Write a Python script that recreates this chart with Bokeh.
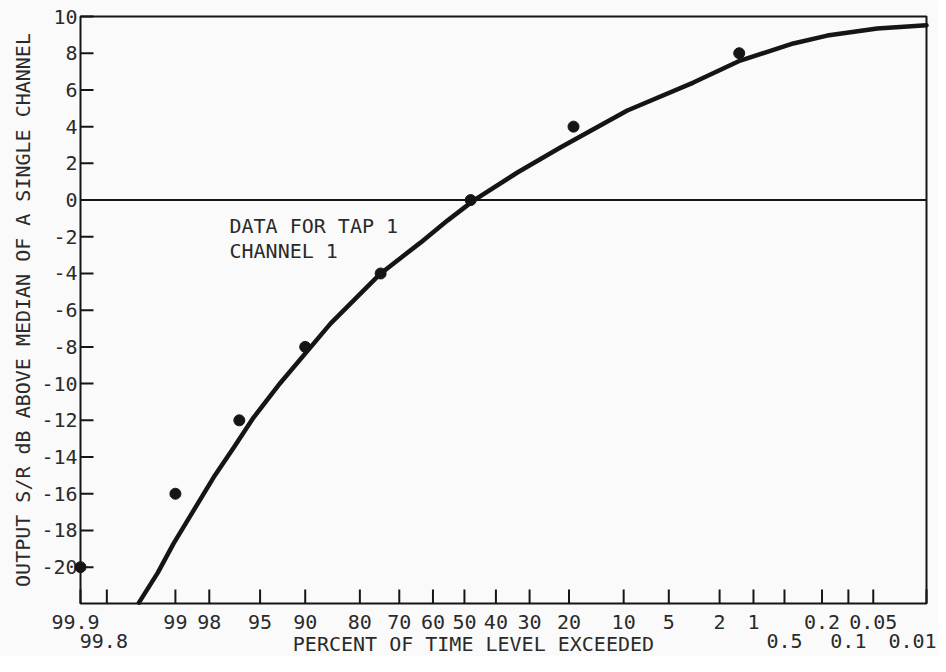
import math
from bokeh.plotting import figure
from bokeh.models import Range1d
from bokeh.core.properties import value
from bokeh.embed import file_html
from bokeh.resources import INLINE

# ---- data (percent of time level exceeded, dB) ----
PTS_PCT = [99.9, 99, 96.5, 90, 75, 48, 19, 1.35]
PTS_DB = [-20, -16, -12, -8, -4, 0, 4, 8]

CURVE_PCT = [99.56, 99.32, 99.04, 98.54, 97.83, 96.84, 95.52, 93.06, 85.95, 75.05,
             63.83, 55.45, 47.11, 33.49, 22.0, 9.49, 3.27, 1.32, 0.406, 0.175, 0.0445, 0.01]
CURVE_DB = [-21.93, -20.30, -18.72, -16.92, -15.12, -13.49, -11.85, -9.95, -6.73, -4.01,
            -2.32, -1.12, -0.03, 1.50, 2.86, 4.88, 6.40, 7.60, 8.53, 8.96, 9.35, 9.52]

X_TICKS_UPPER = [99.9, 99, 98, 95, 90, 80, 70, 60, 50, 40, 30, 20, 10, 5, 2, 1, 0.2, 0.05]
X_LABELS_UPPER = ["99.9", "99", "98", "95", "90", "80", "70", "60", "50", "40", "30", "20",
                  "10", "5", "2", "1", "0.2", "0.05"]
X_TICKS_LOWER = [99.8, 0.5, 0.1, 0.01]
X_LABELS_LOWER = ["99.8", "0.5", "0.1", "0.01"]
Y_TICKS = [-20, -18, -16, -14, -12, -10, -8, -6, -4, -2, 0, 2, 4, 6, 8, 10]
Y_LABELS = [str(v) for v in Y_TICKS]

X_TITLE = "PERCENT OF TIME LEVEL EXCEEDED"
Y_TITLE = "OUTPUT S/R dB ABOVE MEDIAN OF A SINGLE CHANNEL"
NOTE_LINES = ["DATA FOR TAP 1", "CHANNEL 1"]

FONT = "DejaVu Sans Mono"
FS = "20px"
INK = "#151515"
TXT = "#2a2a2a"
PAPER = "#fafafa"

# ---- layout (pixels) ----
W, H = 938, 656
F_LEFT, F_RIGHT, F_TOP, F_BOTTOM = 80, 926, 16, 603    # plotting box
X_TICK_LEN, Y_TICK_LEN = 14, 13
ROW1_PX, ROW2_PX, TITLE_PX = 18, 37, 40                  # below the box
Y_LABEL_GAP, Y_TITLE_PX = 3, 58                          # left of the box
UPPER_NUDGE = {"99.9": -5}
LOWER_NUDGE = {"99.8": -3, "0.01": -14}


def z_of(pct):
    """normal-probability scale position for a percent exceeded"""
    q = 1.0 - pct / 100.0
    lo, hi = -10.0, 10.0
    for _ in range(200):
        mid = 0.5 * (lo + hi)
        if 0.5 * (1.0 + math.erf(mid / math.sqrt(2.0))) < q:
            lo = mid
        else:
            hi = mid
    return 0.5 * (lo + hi)


x_lo, x_hi = z_of(99.9), z_of(0.01)
y_lo, y_hi = -21.98, 10
kx = (F_RIGHT - F_LEFT) / (x_hi - x_lo)     # px per probit unit
ky = (F_BOTTOM - F_TOP) / (y_hi - y_lo)     # px per dB

p = figure(width=W, height=H, output_backend="svg", toolbar_location=None,
           x_range=Range1d(x_lo - F_LEFT / kx, x_hi + (W - F_RIGHT) / kx),
           y_range=Range1d(y_lo - (H - F_BOTTOM) / ky, y_hi + F_TOP / ky),
           x_axis_location=None, y_axis_location=None, min_border=0,
           background_fill_color=PAPER, border_fill_color=PAPER)
p.grid.visible = False
p.outline_line_color = None

txt_kw = dict(text_font=value(FONT), text_font_size=FS, text_color=TXT)

# plotting box
p.quad(left=[x_lo], right=[x_hi], bottom=[y_lo], top=[y_hi],
       fill_color=None, line_color=INK, line_width=2)

# zero reference line
p.segment(x0=[x_lo], y0=[0], x1=[x_hi], y1=[0], line_color=INK, line_width=2)

# y axis: ticks, labels, title
p.segment(x0=[x_lo] * len(Y_TICKS), y0=Y_TICKS, x1=[x_lo + Y_TICK_LEN / kx] * len(Y_TICKS),
          y1=Y_TICKS, line_color=INK, line_width=2)
p.text(x=[x_lo] * len(Y_TICKS), y=Y_TICKS, text=Y_LABELS, x_offset=-Y_LABEL_GAP,
       text_align="right", text_baseline="middle", **txt_kw)
p.text(x=[x_lo - Y_TITLE_PX / kx], y=[(y_lo + y_hi) / 2], text=[Y_TITLE], angle=math.pi / 2,
       text_align="center", text_baseline="middle", **txt_kw)

# x axis (normal probability scale): ticks, two rows of labels, title
xt = [z_of(v) for v in X_TICKS_UPPER + X_TICKS_LOWER]
p.segment(x0=xt, y0=[y_lo] * len(xt), x1=xt, y1=[y_lo + X_TICK_LEN / ky] * len(xt),
          line_color=INK, line_width=2)
p.text(x=[z_of(v) for v in X_TICKS_UPPER], y=[y_lo - ROW1_PX / ky] * len(X_TICKS_UPPER),
       text=X_LABELS_UPPER, x_offset=[UPPER_NUDGE.get(s, 0) for s in X_LABELS_UPPER],
       text_align="center", text_baseline="middle", **txt_kw)
p.text(x=[z_of(v) for v in X_TICKS_LOWER], y=[y_lo - ROW2_PX / ky] * len(X_TICKS_LOWER),
       text=X_LABELS_LOWER, x_offset=[LOWER_NUDGE.get(s, 0) for s in X_LABELS_LOWER],
       text_align="center", text_baseline="middle", **txt_kw)
p.text(x=[z_of(50)], y=[y_lo - TITLE_PX / ky], text=[X_TITLE], x_offset=9,
       text_align="center", text_baseline="middle", **txt_kw)

# fitted curve and measured points
p.line([z_of(v) for v in CURVE_PCT], CURVE_DB, line_color=INK, line_width=4.5,
       line_join="round", line_cap="round")
p.scatter([z_of(v) for v in PTS_PCT], PTS_DB, size=11, color=INK)

# annotation
p.text(x=[z_of(97.07)] * 2, y=[-1.39, -2.75], text=NOTE_LINES,
       text_align="left", text_baseline="middle", **txt_kw)

open("out.html", "w").write(file_html(p, INLINE))
